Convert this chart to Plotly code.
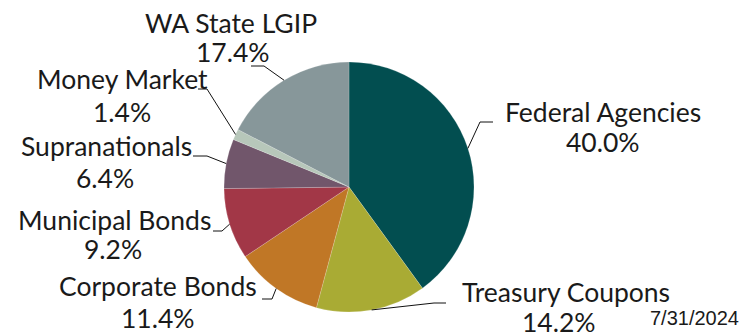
import math
import plotly.graph_objects as go

# ---- data ----
categories = ["Federal Agencies", "Treasury Coupons", "Corporate Bonds",
              "Municipal Bonds", "Supranationals", "Money Market", "WA State LGIP"]
values = [40.0, 14.2, 11.4, 9.2, 6.4, 1.4, 17.4]
colors = ["#024E50", "#A9AB34", "#C07726", "#A23747", "#71566B", "#B7C7BA", "#87979A"]
date_label = "7/31/2024"

# ---- layout constants (pixels) ----
W, H = 744, 332
CX, CY, R = 349, 187, 125
FS = 26.5
# (line1 centre x, baseline), (line2 centre x, baseline), elbow, line end
label_layout = {
    "Federal Agencies": ((602.5, 122.3), (603.3, 151.7), (480, 122), (493, 122)),
    "Treasury Coupons": ((566, 301.7), (559, 332.3), (434, 303), (446, 303)),
    "Corporate Bonds":  ((158, 296), (158, 327.7), (272, 299), (262, 299)),
    "Municipal Bonds":  ((114.7, 230), (112.5, 259), (222, 231), (213, 231)),
    "Supranationals":   ((106, 156), (105, 187.5), (207, 156), (193, 156)),
    "Money Market":     ((122, 88.5), (122, 121.5), (207, 89), (198, 89)),
    "WA State LGIP":    ((231, 33.3), (233, 61.7), (264, 66), (251, 66)),
}

def px(x):
    return x / W

def py(y):
    return 1 - y / H

fig = go.Figure(go.Pie(
    labels=categories, values=values, sort=False, direction="clockwise",
    rotation=0, marker=dict(colors=colors, line=dict(color="rgba(255,255,255,0.35)", width=0.5)),
    textinfo="none", hoverinfo="label+percent", showlegend=False,
    domain=dict(x=[px(CX - R), px(CX + R)], y=[py(CY + R), py(CY - R)]),
))

total = sum(values)
cum = 0.0
annotations = []
shapes = []
for cat, val in zip(categories, values):
    mid = (cum + val / 2) / total * 360.0
    cum += val
    th = math.radians(mid)
    ex, ey = CX + R * math.sin(th), CY - R * math.cos(th)
    (x1, b1), (x2, b2), (bx, by), (lx, ly) = label_layout[cat]
    shapes.append(dict(type="path", xref="paper", yref="paper",
                       path=f"M {px(ex)},{py(ey)} L {px(bx)},{py(by)} L {px(lx)},{py(ly)}",
                       line=dict(color="#111111", width=1)))
    for tx, base, txt in ((x1, b1, cat), (x2, b2, f"{val:.1f}%")):
        annotations.append(dict(x=px(tx), y=py(base - 0.37 * FS), xref="paper", yref="paper",
                                xanchor="center", yanchor="middle", showarrow=False,
                                text=txt,
                                font=dict(family="Lato", size=FS, color="#1a1a1a")))

annotations.append(dict(x=px(741), y=py(318), xref="paper", yref="paper",
                        xanchor="right", yanchor="middle", showarrow=False,
                        text=date_label,
                        font=dict(family="Liberation Sans", size=20, color="#1a1a1a")))

fig.update_layout(width=W, height=H, margin=dict(l=0, r=0, t=0, b=0),
                  paper_bgcolor="white", plot_bgcolor="white",
                  annotations=annotations, shapes=shapes)

fig.write_html("out.html")
